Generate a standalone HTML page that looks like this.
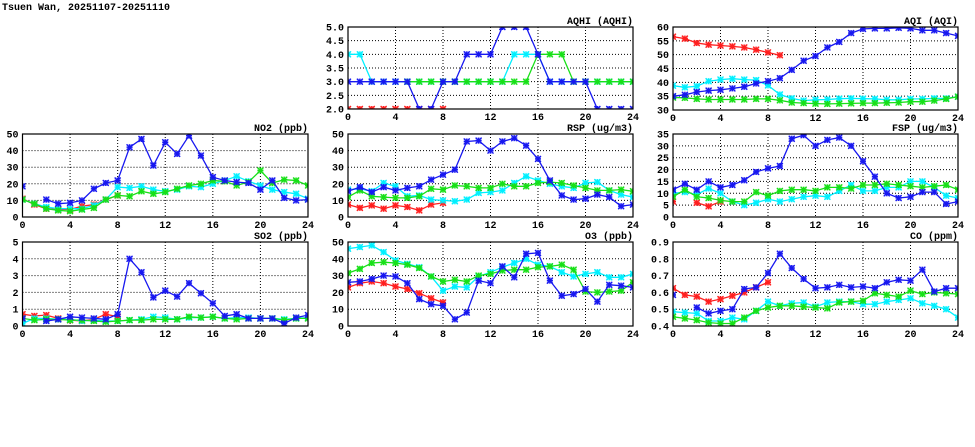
<!DOCTYPE html>
<html><head><meta charset="utf-8"><style>
html,body{margin:0;padding:0;background:#fff;}
svg{display:block;}
text{font-family:"Liberation Mono",monospace;font-weight:bold;font-size:10px;fill:#000;}
</style></head><body>
<svg id="s" width="975" height="447" xmlns="http://www.w3.org/2000/svg">
<text x="2" y="10">Tsuen Wan, 20251107-20251110</text>
</svg>
<script>
const S=document.getElementById('s');const NS='http://www.w3.org/2000/svg';
function el(t,a,txt){const e=document.createElementNS(NS,t);for(const k in a)e.setAttribute(k,a[k]);if(txt!==undefined)e.textContent=txt;S.appendChild(e);return e;}
const C={r:'#ff2020',b:'#1818f0',c:'#00f0ff',g:'#18e018'};
function panel(L,R,T,B,ymin,ymax,step,dec,title,data){
  const X=h=>L+(R-L)*h/24, Y=v=>B-(B-T)*(v-ymin)/(ymax-ymin);
  for(let h=4;h<24;h+=4)el('line',{x1:X(h),x2:X(h),y1:T,y2:B,stroke:'#000','stroke-width':1,'stroke-dasharray':'1,2'});
  for(let v=ymin+step;v<ymax-1e-9;v+=step)el('line',{x1:L,x2:R,y1:Y(v),y2:Y(v),stroke:'#000','stroke-width':1,'stroke-dasharray':'1,2'});
  for(let v=ymin;v<=ymax+1e-9;v+=step)el('text',{x:L-4,y:Y(v)+3.5,'text-anchor':'end'},v.toFixed(dec));
  for(let h=0;h<=24;h+=4)el('text',{x:X(h),y:B+11,'text-anchor':'middle'},h);
  el('text',{x:R,y:T-3,'text-anchor':'end'},title);
  const clip='c'+Math.round(L)+'_'+T;
  const cp=el('clipPath',{id:clip});const rr=document.createElementNS(NS,'rect');rr.setAttribute('x',L);rr.setAttribute('y',T);rr.setAttribute('width',R-L);rr.setAttribute('height',B-T);cp.appendChild(rr);
  for(const k of ['r','c','g','b']){
    const d=data[k];if(!d)continue;
    const g=el('g',{'clip-path':'url(#'+clip+')'});
    const segs=[];let cur=[];
    d.forEach((v,h)=>{if(v===null){if(cur.length)segs.push(cur);cur=[];}else cur.push([X(h),Y(v)]);});
    if(cur.length)segs.push(cur);
    segs.forEach(sg=>{const p=document.createElementNS(NS,'polyline');p.setAttribute('points',sg.map(q=>q[0].toFixed(1)+','+q[1].toFixed(1)).join(' '));p.setAttribute('fill','none');p.setAttribute('stroke',C[k]);p.setAttribute('stroke-width','1.3');g.appendChild(p);
      sg.forEach(q=>{const m=document.createElementNS(NS,'path');const x=q[0],y=q[1],s=3;m.setAttribute('d',`M${x-s},${y-s}L${x+s},${y+s}M${x-s},${y+s}L${x+s},${y-s}M${x-s},${y}L${x+s},${y}M${x},${y-s}L${x},${y+s}`);m.setAttribute('stroke',C[k]);m.setAttribute('stroke-width','1.3');g.appendChild(m);
        const b=document.createElementNS(NS,'rect');b.setAttribute('x',x-3);b.setAttribute('y',y-3);b.setAttribute('width',6);b.setAttribute('height',6);b.setAttribute('fill',C[k]);b.setAttribute('fill-opacity','0.35');g.appendChild(b);});});
  }
  el('rect',{x:L,y:T,width:R-L,height:B-T,fill:'none',stroke:'#000','stroke-width':1.2});
}
const n=null;
panel(348,633,27,109,2,5,0.5,1,'AQHI (AQHI)',{
 b:[3,3,3,3,3,3,2,2,3,3,4,4,4,5,5,5,4,3,3,3,3,2,2,2,2],
 c:[4,4,3,3,3,3,3,3,3,3,3,3,3,3,4,4,4,3,3,3,3,3,3,3,3],
 g:[n,n,n,n,n,3,3,3,3,3,3,3,3,3,3,3,4,4,4,3,3,3,3,3,3],
 r:[2,2,2,2,2,2,2,2,2]});
panel(673,958,27,110,30,60,5,0,'AQI (AQI)',{
 b:[35,35.5,36.5,37,37.3,37.8,38.4,39.6,40.4,41.5,44.5,47.8,49.5,52.6,54.6,57.8,59.3,59.5,59.5,59.7,59.5,58.8,58.8,57.8,56.8],
 c:[38.8,38.2,38.6,40.4,41,41.3,41,40.8,38.9,35.6,34.2,33.4,33.7,33.8,34.1,34.2,34.1,34,33.7,33.7,34,34,34.2,34.2,34.8],
 g:[34.5,34.4,34,33.8,33.8,33.8,33.8,34,34,33.5,32.7,32.5,32.3,32.2,32.3,32.4,32.5,32.5,32.6,32.7,33,33,33.4,34,34.8],
 r:[56.5,55.8,54.2,53.6,53.3,53,52.6,51.8,50.8,49.8]});
panel(22.5,308,134,217,0,50,10,0,'NO2 (ppb)',{
 b:[18.5,n,10.5,8,8.5,10,17,20.5,22,42,47,31,45,38,49,37,24,22,21,20.5,16.5,22,11.5,10,10.5],
 c:[10.5,8,6,5,5,5,7,10.5,18,17.5,18.5,16.5,15.5,16.5,18.5,18,20,22,24.5,21.5,19,16.5,15,14,11],
 g:[10.5,8,5,4,3.5,4.5,5.5,10.5,13,12.5,15.5,14,15,17,19,20,22,21.5,19,21,28,20.5,22.5,22,19],
 r:[11,7.5,5,4.5,4.5,6.5,7.5,10.5,13]});
panel(348,633,134,217,0,50,10,0,'RSP (ug/m3)',{
 b:[15.5,18,15,18,16,17.5,18.5,22.5,25.5,28.5,45.5,46,40,45.5,47.5,43,35,22,13,10.5,11,13.5,12,6.5,7.5],
 c:[16.5,17,15.5,20.5,18.5,12.5,13,10.5,10,9.5,10.5,14.5,15,16,20.5,24.5,22,20,18.5,17.5,20.5,21,16,13.5,12],
 g:[12,16,12.5,12,11.5,11.5,12.5,17,16.5,19,18.5,17.5,17.5,20,18.5,18.5,20.5,21,20.5,19,17.5,16,16,16.5,15.5],
 r:[7.5,5.5,7,5,7,6,4,7.5,8.5]});
panel(673,958,134,217,0,35,5,0,'FSP (ug/m3)',{
 b:[11.5,14,11.5,15,12.5,13.5,15.5,19,20.5,21.5,33,34.5,30,32.5,33.5,30,23.5,17,10,8,8.5,10.5,10.5,5.5,6.5],
 c:[10,10.5,9.5,12,10,6.5,5,6,7.5,6.5,7.5,8.5,9,8.5,11,13.5,11,11,12.5,12.5,15,15,12.5,9,8],
 g:[8.5,11.5,8.5,8,7,6.5,6.5,10.5,9,11,11.5,11.5,11,12.5,12.5,12,13.5,13.5,14,13.5,13,12.5,13,13.5,11.5],
 r:[6.5,n,6,4.5,6.5]});
panel(22.5,308,242,326,0,5,1,0,'SO2 (ppb)',{
 b:[0.45,n,0.3,0.4,0.55,0.5,0.45,0.4,0.7,4,3.2,1.7,2.1,1.75,2.55,1.95,1.35,0.6,0.7,0.45,0.45,0.45,0.15,0.5,0.65],
 c:[0.15,0.45,0.45,0.4,0.4,0.3,0.35,0.3,0.3,0.35,0.4,0.55,0.5,0.4,0.5,0.5,0.55,0.45,0.5,0.5,0.45,0.45,0.4,0.45,0.5],
 g:[0.45,0.35,0.4,0.4,0.35,0.35,0.3,0.25,0.3,0.35,0.35,0.4,0.4,0.4,0.55,0.5,0.55,0.45,0.4,0.45,0.45,0.45,0.35,0.45,0.45],
 r:[0.7,0.6,0.65,0.45,0.35,0.3,0.4,0.7,0.55]});
panel(348,633,242,326,0,50,10,0,'O3 (ppb)',{
 b:[26,26.5,28,30,29.5,25.5,16,13,12,4,8,27,25.5,35.5,29,43,43.5,27,18,19,22,14.5,24.5,24,23],
 c:[46,47,48,44,39,37,35,29.5,21,23.5,23,29.5,32,35,37.5,40,36.5,35.5,32,29.5,31,32,29,29,31],
 g:[31.5,34,37.5,38,37.5,36.5,34.5,29.5,26.5,27.5,26.5,30,31,33,33.5,33.5,35,35.5,36.5,33.5,20.5,20,20.5,21,26],
 r:[23,25.5,26.5,25.5,23.5,22,19.5,16.5,14]});
panel(673,958,242,326,0.4,0.9,0.1,1,'CO (ppm)',{
 b:[0.585,n,0.51,0.475,0.49,0.5,0.62,0.63,0.715,0.83,0.745,0.68,0.625,0.63,0.645,0.63,0.635,0.625,0.66,0.675,0.67,0.735,0.605,0.625,0.625],
 c:[0.485,0.48,0.475,0.43,0.43,0.45,0.44,0.49,0.545,0.52,0.535,0.54,0.515,0.54,0.545,0.545,0.53,0.53,0.545,0.555,0.565,0.535,0.52,0.5,0.45],
 g:[0.455,0.445,0.435,0.42,0.415,0.415,0.45,0.49,0.51,0.52,0.52,0.515,0.51,0.505,0.54,0.545,0.55,0.595,0.585,0.575,0.61,0.59,0.6,0.595,0.59],
 r:[0.625,0.585,0.575,0.545,0.56,0.58,0.6,0.63,0.66]});
</script>
</body></html>
